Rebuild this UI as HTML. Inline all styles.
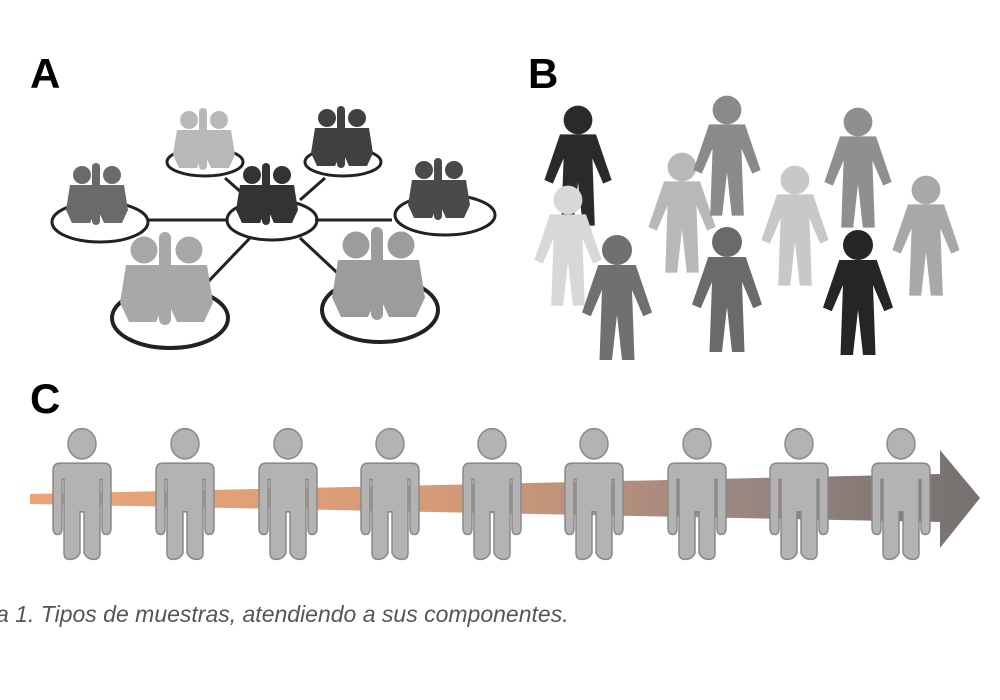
<!DOCTYPE html>
<html><head><meta charset="utf-8"><style>
html,body{margin:0;padding:0;background:#fff;width:1000px;height:700px;overflow:hidden}
</style></head><body>
<svg width="1000" height="700" viewBox="0 0 1000 700" xmlns="http://www.w3.org/2000/svg">
<defs>
<linearGradient id="ar" x1="0" x2="1" y1="0" y2="0">
<stop offset="0" stop-color="#eda577"/><stop offset="0.45" stop-color="#d49a78"/><stop offset="0.75" stop-color="#9a8680"/><stop offset="1" stop-color="#757070"/>
</linearGradient>
<g id="p0">
<circle cx="0" cy="-103" r="14" fill="#b3b3b3" stroke="#8a8a8a" stroke-width="1.5"/>
<path d="M-22,-85 H22 Q29,-85 29,-78 V-25 Q29,-19 24,-19 Q20,-19 20,-25 V-70 H18 V-2 Q18,4 12,4 Q5,4 2,-2 V-40 H-2 V-2 Q-5,4 -12,4 Q-18,4 -18,-2 V-70 H-20 V-25 Q-20,-19 -24,-19 Q-29,-19 -29,-25 V-78 Q-29,-85 -22,-85Z" fill="#b3b3b3" stroke="#8a8a8a" stroke-width="1.5"/>
</g>
<g id="p"><g transform="scale(1,1.08)"><use href="#p0"/></g></g>
<g id="f">
<circle cx="0" cy="-40" r="12"/>
<path d="M-15,-28 H15 L28,10 L21,13 L12,-8 L14,48 H4 L0,12 L-4,48 H-14 L-12,-8 L-21,13 L-28,10Z"/>
</g>
<g id="c">
<circle cx="-16" cy="-30" r="9"/><path d="M-28,-20 H-6 L-2,5 L-8,18 H-26 L-32,5Z"/>
<circle cx="14" cy="-30" r="9"/><path d="M2,-20 H26 L30,5 L24,18 H6 L0,5Z"/>
<rect x="-6" y="-42" width="8" height="62" rx="4"/>
</g>
</defs>
<text x="30" y="88" font-family="Liberation Sans, sans-serif" font-weight="bold" font-size="42" fill="#000">A</text>
<text x="528" y="88" font-family="Liberation Sans, sans-serif" font-weight="bold" font-size="42" fill="#000">B</text>
<text x="30" y="413" font-family="Liberation Sans, sans-serif" font-weight="bold" font-size="42" fill="#000">C</text>

<g stroke="#222" stroke-width="3" fill="none">
<line x1="148" y1="220" x2="228" y2="220"/><line x1="315" y1="220" x2="392" y2="220"/>
<line x1="225" y1="178" x2="250" y2="200"/><line x1="325" y1="178" x2="300" y2="200"/>
<line x1="250" y1="238" x2="205" y2="285"/><line x1="300" y1="238" x2="345" y2="280"/>
<ellipse cx="205" cy="162" rx="38" ry="14"/><ellipse cx="343" cy="162" rx="38" ry="14"/>
<ellipse cx="272" cy="220" rx="45" ry="20"/><ellipse cx="100" cy="222" rx="48" ry="20"/>
<ellipse cx="445" cy="215" rx="50" ry="20"/>
<ellipse cx="170" cy="318" rx="58" ry="30" stroke-width="4"/><ellipse cx="380" cy="310" rx="58" ry="32" stroke-width="4"/>
</g>
<use href="#c" x="205" y="150" fill="#b8b8b8"/>
<use href="#c" x="343" y="148" fill="#404040"/>
<use href="#c" x="268" y="205" fill="#333"/>
<use href="#c" x="98" y="205" fill="#6a6a6a"/>
<use href="#c" x="440" y="200" fill="#4a4a4a"/>
<g transform="translate(168,295) scale(1.5)" fill="#a8a8a8"><use href="#c"/></g>
<g transform="translate(380,290) scale(1.5)" fill="#9c9c9c"><use href="#c"/></g>

<g transform="translate(578,168) scale(1.2)" fill="#2a2a2a"><use href="#f"/></g>
<g transform="translate(568,248) scale(1.2)" fill="#d8d8d8"><use href="#f"/></g>
<g transform="translate(617,300) scale(1.25)" fill="#707070"><use href="#f"/></g>
<g transform="translate(682,215) scale(1.2)" fill="#b8b8b8"><use href="#f"/></g>
<g transform="translate(727,158) scale(1.2)" fill="#8a8a8a"><use href="#f"/></g>
<g transform="translate(727,292) scale(1.25)" fill="#6a6a6a"><use href="#f"/></g>
<g transform="translate(795,228) scale(1.2)" fill="#c8c8c8"><use href="#f"/></g>
<g transform="translate(858,170) scale(1.2)" fill="#8f8f8f"><use href="#f"/></g>
<g transform="translate(858,295) scale(1.25)" fill="#252525"><use href="#f"/></g>
<g transform="translate(926,238) scale(1.2)" fill="#a8a8a8"><use href="#f"/></g>

<path d="M30,494 L940,474 L940,450 L980,498 L940,548 L940,522 L30,504Z" fill="url(#ar)"/>
<use href="#p" x="82" y="555"/><use href="#p" x="185" y="555"/><use href="#p" x="288" y="555"/>
<use href="#p" x="390" y="555"/><use href="#p" x="492" y="555"/><use href="#p" x="594" y="555"/>
<use href="#p" x="697" y="555"/><use href="#p" x="799" y="555"/><use href="#p" x="901" y="555"/>

<text x="-4" y="622" font-family="Liberation Sans, sans-serif" font-style="italic" font-size="23" fill="#555">a 1. Tipos de muestras, atendiendo a sus componentes.</text>
</svg>
</body></html>
